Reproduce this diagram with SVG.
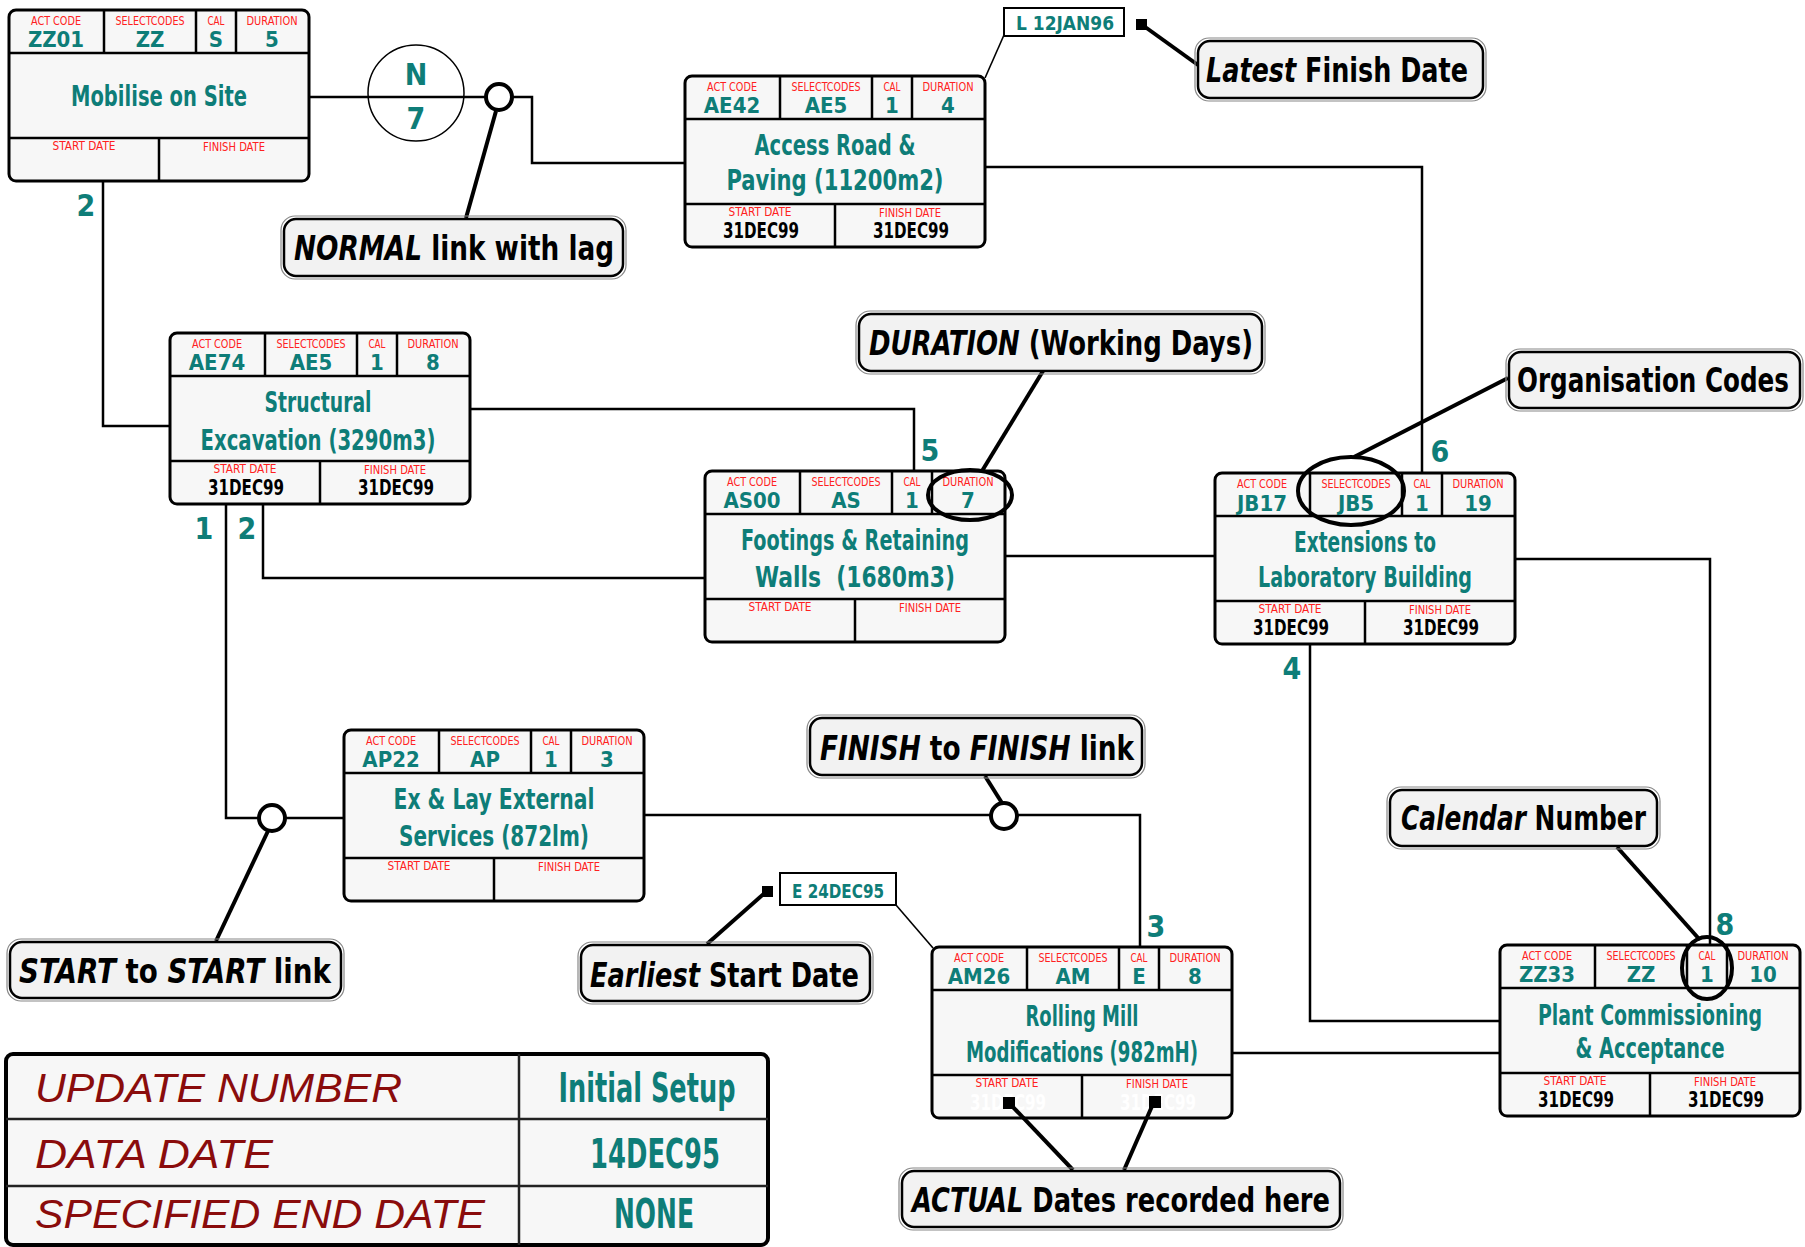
<svg xmlns="http://www.w3.org/2000/svg" xmlns:xlink="http://www.w3.org/1999/xlink" width="1805" height="1247" viewBox="0 0 1805 1247">
  <style>
    .nf { font-family: "Liberation Sans Narrow", "DejaVu Sans Condensed", "Liberation Sans", sans-serif; font-stretch: condensed; }
    .box { fill: #f7f7f7; stroke: #000; stroke-width: 3; }
    .div { fill: none; stroke: #000; stroke-width: 2.5; }
    .lbl { font-size: 12.5px; fill: #ff2020; text-anchor: middle; }
    .val { font-size: 22px; font-weight: bold; fill: #0e7d78; text-anchor: middle; }
    .title { font-size: 29px; font-weight: bold; fill: #0e7d78; text-anchor: middle; }
    .date { font-size: 21px; font-weight: bold; fill: #000; text-anchor: middle; }
    .date.blank { fill: #ffffff; }
    .num { font-size: 30px; font-weight: bold; fill: #0e7d78; text-anchor: middle; }
    .conn { fill: none; stroke: #000; stroke-width: 2.5; }
    .thin { fill: none; stroke: #000; stroke-width: 1.6; }
    .lead { fill: none; stroke: #000; stroke-width: 4; }
    .mark { fill: #fff; stroke: #000; stroke-width: 4; }
    .hl { fill: none; stroke: #000; stroke-width: 4; }
    .sq { fill: #000; }
    .co { fill: #f2f2f2; stroke: #000; stroke-width: 2.5; }
    .co-out { fill: none; stroke: #888; stroke-width: 1.2; }
    .cot { font-size: 34px; font-weight: bold; fill: #000; }
    .it { font-style: italic; }
    .tag { fill: #fff; stroke: #000; stroke-width: 2; }
    .tagt { font-size: 20px; font-weight: bold; fill: #0e7d78; text-anchor: middle; }
    .tbl { fill: #f7f7f7; stroke: #000; stroke-width: 4; }
    .tdiv { fill: none; stroke: #222; stroke-width: 2.5; }
    .tk { font-family: "Liberation Sans", Arial, sans-serif; font-style: italic; font-size: 41px; fill: #8a0c0c; }
    .tv { font-size: 40px; font-weight: bold; fill: #0e7d78; text-anchor: middle; }
  </style>
  <defs>
    <!-- activity box frame shared by every node -->
    <g id="frame">
      <rect class="box" x="0" y="0" width="300" height="171" rx="7"/>
      <path class="div" d="M0 43H300M0 128H300M95 0V43M187 0V43M227 0V43M150 128V171"/>
      <g class="nf lbl">
        <text x="47" y="15" textLength="50" lengthAdjust="spacingAndGlyphs">ACT CODE</text>
        <text x="141" y="15" textLength="69" lengthAdjust="spacingAndGlyphs">SELECTCODES</text>
        <text x="207" y="15" textLength="17" lengthAdjust="spacingAndGlyphs">CAL</text>
        <text x="263" y="15" textLength="51" lengthAdjust="spacingAndGlyphs">DURATION</text>
        <text x="75" y="140" textLength="63" lengthAdjust="spacingAndGlyphs">START DATE</text>
        <text x="225" y="141" textLength="62" lengthAdjust="spacingAndGlyphs">FINISH DATE</text>
      </g>
    </g>
  </defs>

  <rect width="1805" height="1247" fill="#fff"/>

  <!-- connectors between activities -->
  <g id="connectors">
    <path class="conn" d="M309 97H532V163H685"/>
    <path class="conn" d="M103 181V426H170"/>
    <path class="conn" d="M470 409H914V471"/>
    <path class="conn" d="M263 504V578H705"/>
    <path class="conn" d="M226 504V818H344"/>
    <path class="conn" d="M644 815H1140V947"/>
    <path class="conn" d="M1232 1053H1500"/>
    <path class="conn" d="M1310 644V1021H1500"/>
    <path class="conn" d="M1515 559H1710V945"/>
    <path class="conn" d="M1005 556H1215"/>
    <path class="conn" d="M985 167H1422V473"/>
    <!-- lag circle on the normal link -->
    <circle cx="416" cy="93" r="48" fill="none" stroke="#000" stroke-width="1.5"/>
    <text class="nf num" x="416" y="85">N</text>
    <text class="nf num" x="416" y="129">7</text>
    <!-- link numbers -->
    <g class="nf num">
      <text x="86" y="216">2</text>
      <text x="930" y="461">5</text>
      <text x="247" y="539">2</text>
      <text x="204" y="539">1</text>
      <text x="1156" y="937">3</text>
      <text x="1292" y="679">4</text>
      <text x="1725" y="935">8</text>
      <text x="1440" y="462">6</text>
    </g>
  </g>

  <!-- activity nodes -->
  <g id="node-zz01" transform="translate(9,10)">
    <use xlink:href="#frame"/>
    <g class="nf val"><text x="47" y="37">ZZ01</text><text x="141" y="37">ZZ</text><text x="207" y="37">S</text><text x="263" y="37">5</text></g>
    <text class="nf title" x="150" y="96" textLength="176" lengthAdjust="spacingAndGlyphs">Mobilise on Site</text>
  </g>

  <g id="node-ae42" transform="translate(685,76)">
    <use xlink:href="#frame"/>
    <g class="nf val"><text x="47" y="37">AE42</text><text x="141" y="37">AE5</text><text x="207" y="37">1</text><text x="263" y="37">4</text></g>
    <text class="nf title" x="150" y="79" textLength="161" lengthAdjust="spacingAndGlyphs">Access Road &amp;</text>
    <text class="nf title" x="150" y="114" textLength="217" lengthAdjust="spacingAndGlyphs">Paving (11200m2)</text>
    <text class="nf date" x="76" y="162" textLength="76" lengthAdjust="spacingAndGlyphs">31DEC99</text>
    <text class="nf date" x="226" y="162" textLength="76" lengthAdjust="spacingAndGlyphs">31DEC99</text>
  </g>

  <g id="node-ae74" transform="translate(170,333)">
    <use xlink:href="#frame"/>
    <g class="nf val"><text x="47" y="37">AE74</text><text x="141" y="37">AE5</text><text x="207" y="37">1</text><text x="263" y="37">8</text></g>
    <text class="nf title" x="148" y="79" textLength="107" lengthAdjust="spacingAndGlyphs">Structural</text>
    <text class="nf title" x="148" y="117" textLength="235" lengthAdjust="spacingAndGlyphs">Excavation (3290m3)</text>
    <text class="nf date" x="76" y="162" textLength="76" lengthAdjust="spacingAndGlyphs">31DEC99</text>
    <text class="nf date" x="226" y="162" textLength="76" lengthAdjust="spacingAndGlyphs">31DEC99</text>
  </g>

  <g id="node-as00" transform="translate(705,471)">
    <use xlink:href="#frame"/>
    <g class="nf val"><text x="47" y="37">AS00</text><text x="141" y="37">AS</text><text x="207" y="37">1</text><text x="263" y="37">7</text></g>
    <text class="nf title" x="150" y="79" textLength="228" lengthAdjust="spacingAndGlyphs">Footings &amp; Retaining</text>
    <text class="nf title" x="150" y="116" textLength="200" lengthAdjust="spacingAndGlyphs" xml:space="preserve">Walls  (1680m3)</text>
  </g>

  <g id="node-jb17" transform="translate(1215,473)">
    <use xlink:href="#frame"/>
    <g class="nf val"><text x="47" y="38">JB17</text><text x="141" y="38">JB5</text><text x="207" y="38">1</text><text x="263" y="38">19</text></g>
    <text class="nf title" x="150" y="79" textLength="142" lengthAdjust="spacingAndGlyphs">Extensions to</text>
    <text class="nf title" x="150" y="114" textLength="214" lengthAdjust="spacingAndGlyphs">Laboratory Building</text>
    <text class="nf date" x="76" y="162" textLength="76" lengthAdjust="spacingAndGlyphs">31DEC99</text>
    <text class="nf date" x="226" y="162" textLength="76" lengthAdjust="spacingAndGlyphs">31DEC99</text>
  </g>

  <g id="node-ap22" transform="translate(344,730)">
    <use xlink:href="#frame"/>
    <g class="nf val"><text x="47" y="37">AP22</text><text x="141" y="37">AP</text><text x="207" y="37">1</text><text x="263" y="37">3</text></g>
    <text class="nf title" x="150" y="79" textLength="201" lengthAdjust="spacingAndGlyphs">Ex &amp; Lay External</text>
    <text class="nf title" x="150" y="116" textLength="190" lengthAdjust="spacingAndGlyphs">Services (872lm)</text>
  </g>

  <g id="node-am26" transform="translate(932,947)">
    <use xlink:href="#frame"/>
    <g class="nf val"><text x="47" y="37">AM26</text><text x="141" y="37">AM</text><text x="207" y="37">E</text><text x="263" y="37">8</text></g>
    <text class="nf title" x="150" y="79" textLength="113" lengthAdjust="spacingAndGlyphs">Rolling Mill</text>
    <text class="nf title" x="150" y="115" textLength="232" lengthAdjust="spacingAndGlyphs">Modifications (982mH)</text>
    <text class="nf date blank" x="76" y="163" textLength="76" lengthAdjust="spacingAndGlyphs">31DEC99</text>
    <text class="nf date blank" x="226" y="163" textLength="76" lengthAdjust="spacingAndGlyphs">31DEC99</text>
  </g>

  <g id="node-zz33" transform="translate(1500,945)">
    <use xlink:href="#frame"/>
    <g class="nf val"><text x="47" y="37">ZZ33</text><text x="141" y="37">ZZ</text><text x="207" y="37">1</text><text x="263" y="37">10</text></g>
    <text class="nf title" x="150" y="80" textLength="224" lengthAdjust="spacingAndGlyphs">Plant Commissioning</text>
    <text class="nf title" x="150" y="113" textLength="149" lengthAdjust="spacingAndGlyphs">&amp; Acceptance</text>
    <text class="nf date" x="76" y="162" textLength="76" lengthAdjust="spacingAndGlyphs">31DEC99</text>
    <text class="nf date" x="226" y="162" textLength="76" lengthAdjust="spacingAndGlyphs">31DEC99</text>
  </g>

  <!-- explanatory callouts and their leaders -->
  <g id="annotations">
    <!-- leaders -->
    <path class="lead" d="M496 111L466 218"/>
    <path class="lead" d="M1141 24L1198 65"/>
    <path class="thin" d="M1004 35L985 78"/>
    <path class="lead" d="M1043 371L982 471"/>
    <path class="lead" d="M1508 378L1354 457"/>
    <path class="lead" d="M268 831L216 941"/>
    <path class="lead" d="M767 891L707 944"/>
    <path class="thin" d="M896 905L933 948"/>
    <path class="lead" d="M985 776L1002 803"/>
    <path class="lead" d="M1617 847L1700 940"/>
    <path class="lead" d="M1012 1106L1073 1170"/>
    <path class="lead" d="M1153 1104L1124 1170"/>

    <!-- link markers -->
    <circle class="mark" cx="499" cy="97" r="13"/>
    <circle class="mark" cx="272" cy="818" r="13"/>
    <circle class="mark" cx="1004" cy="816" r="13"/>

    <!-- highlight rings -->
    <ellipse class="hl" cx="970" cy="495" rx="42" ry="25"/>
    <ellipse class="hl" cx="1351" cy="491" rx="53" ry="34"/>
    <ellipse class="hl" cx="1707" cy="968" rx="25" ry="31"/>

    <!-- leader end squares -->
    <rect class="sq" x="1136" y="19" width="11" height="11"/>
    <rect class="sq" x="762" y="886" width="11" height="11"/>
    <rect class="sq" x="1003" y="1097" width="12" height="12"/>
    <rect class="sq" x="1149" y="1096" width="12" height="12"/>

    <!-- date tags -->
    <rect class="tag" x="1004" y="8" width="120" height="28"/>
    <text class="nf tagt" x="1065" y="30" textLength="98" lengthAdjust="spacingAndGlyphs">L 12JAN96</text>
    <rect class="tag" x="780" y="873" width="116" height="32"/>
    <text class="nf tagt" x="838" y="898" textLength="92" lengthAdjust="spacingAndGlyphs">E 24DEC95</text>

    <!-- callout boxes -->
    <g id="callout-normal">
      <rect class="co-out" x="281" y="216" width="345" height="63" rx="14"/>
      <rect class="co" x="284" y="219" width="339" height="57" rx="12"/>
      <text class="nf cot" x="294" y="260" textLength="320" lengthAdjust="spacingAndGlyphs"><tspan class="it">NORMAL</tspan> link with lag</text>
    </g>
    <g id="callout-latest">
      <rect class="co-out" x="1195" y="38" width="291" height="63" rx="14"/>
      <rect class="co" x="1198" y="41" width="285" height="57" rx="12"/>
      <text class="nf cot" x="1206" y="82" textLength="262" lengthAdjust="spacingAndGlyphs"><tspan class="it">Latest</tspan> Finish Date</text>
    </g>
    <g id="callout-duration">
      <rect class="co-out" x="856" y="311" width="409" height="63" rx="14"/>
      <rect class="co" x="859" y="314" width="403" height="57" rx="12"/>
      <text class="nf cot" x="869" y="355" textLength="384" lengthAdjust="spacingAndGlyphs"><tspan class="it">DURATION</tspan> (Working Days)</text>
    </g>
    <g id="callout-org">
      <rect class="co-out" x="1506" y="349" width="297" height="62" rx="14"/>
      <rect class="co" x="1509" y="352" width="291" height="56" rx="12"/>
      <text class="nf cot" x="1517" y="392" textLength="272" lengthAdjust="spacingAndGlyphs">Organisation Codes</text>
    </g>
    <g id="callout-ss">
      <rect class="co-out" x="7" y="939" width="337" height="62" rx="14"/>
      <rect class="co" x="10" y="942" width="331" height="56" rx="12"/>
      <text class="nf cot" x="19" y="983" textLength="312" lengthAdjust="spacingAndGlyphs"><tspan class="it">START</tspan> to <tspan class="it">START</tspan> link</text>
    </g>
    <g id="callout-earliest">
      <rect class="co-out" x="578" y="942" width="295" height="62" rx="14"/>
      <rect class="co" x="581" y="945" width="289" height="56" rx="12"/>
      <text class="nf cot" x="590" y="987" textLength="269" lengthAdjust="spacingAndGlyphs"><tspan class="it">Earliest</tspan> Start Date</text>
    </g>
    <g id="callout-ff">
      <rect class="co-out" x="807" y="715" width="338" height="63" rx="14"/>
      <rect class="co" x="810" y="718" width="332" height="57" rx="12"/>
      <text class="nf cot" x="820" y="760" textLength="314" lengthAdjust="spacingAndGlyphs"><tspan class="it">FINISH</tspan> to <tspan class="it">FINISH</tspan> link</text>
    </g>
    <g id="callout-cal">
      <rect class="co-out" x="1387" y="787" width="273" height="62" rx="14"/>
      <rect class="co" x="1390" y="790" width="267" height="56" rx="12"/>
      <text class="nf cot" x="1401" y="830" textLength="245" lengthAdjust="spacingAndGlyphs"><tspan class="it">Calendar</tspan> Number</text>
    </g>
    <g id="callout-actual">
      <rect class="co-out" x="899" y="1168" width="444" height="62" rx="14"/>
      <rect class="co" x="902" y="1171" width="438" height="56" rx="12"/>
      <text class="nf cot" x="912" y="1212" textLength="418" lengthAdjust="spacingAndGlyphs"><tspan class="it">ACTUAL</tspan> Dates recorded here</text>
    </g>
  </g>

  <!-- project header table -->
  <g id="project-table">
    <rect class="tbl" x="6" y="1054" width="762" height="191" rx="7"/>
    <path class="tdiv" d="M6 1119H768M6 1186H768M519 1054V1245"/>
    <text class="tk" x="35" y="1102" textLength="367" lengthAdjust="spacingAndGlyphs">UPDATE NUMBER</text>
    <text class="tk" x="35" y="1168" textLength="238" lengthAdjust="spacingAndGlyphs">DATA DATE</text>
    <text class="tk" x="35" y="1228" textLength="450" lengthAdjust="spacingAndGlyphs">SPECIFIED END DATE</text>
    <text class="nf tv" x="647" y="1102" textLength="177" lengthAdjust="spacingAndGlyphs">Initial Setup</text>
    <text class="nf tv" x="655" y="1168" textLength="130" lengthAdjust="spacingAndGlyphs">14DEC95</text>
    <text class="nf tv" x="654" y="1228" textLength="80" lengthAdjust="spacingAndGlyphs">NONE</text>
  </g>
</svg>
